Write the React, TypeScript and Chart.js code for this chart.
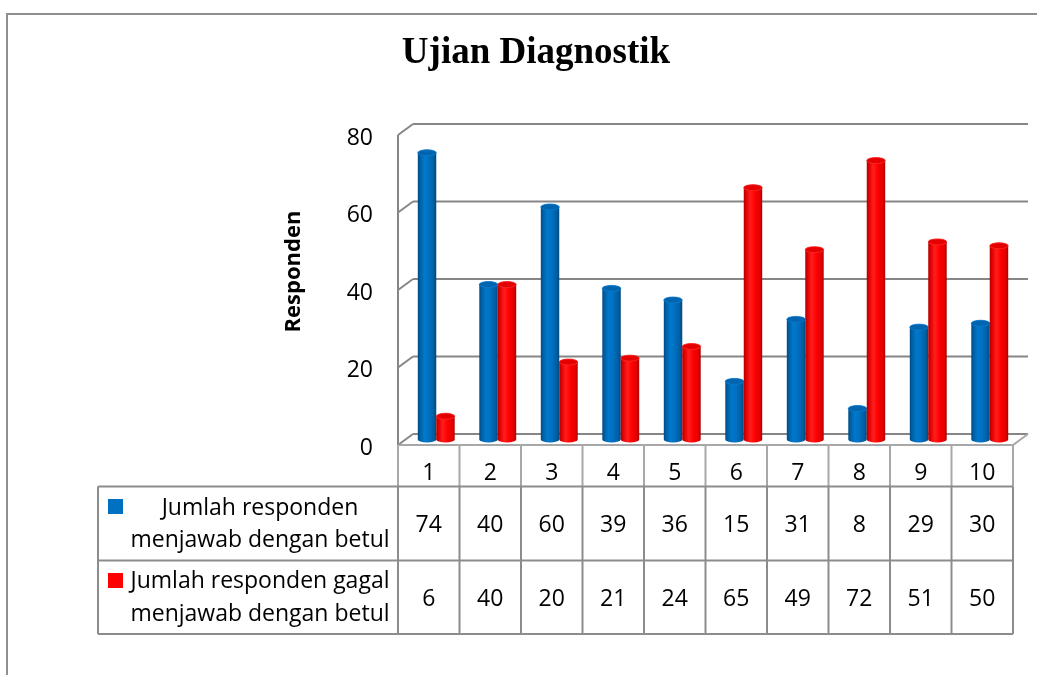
import React, { useEffect, useRef } from 'react';
import { Chart, registerables } from 'chart.js';

Chart.register(...registerables);

const chartTitle = 'Ujian Diagnostik';
const yAxisTitle = 'Responden';
const categories = ['1', '2', '3', '4', '5', '6', '7', '8', '9', '10'];
const seriesCorrect = [74, 40, 60, 39, 36, 15, 31, 8, 29, 30];
const seriesFailed = [6, 40, 20, 21, 24, 65, 49, 72, 51, 50];
const seriesLabels = [
  'Jumlah responden menjawab dengan betul',
  'Jumlah responden gagal menjawab dengan betul',
];
const legendLines = [
  ['Jumlah responden', 'menjawab dengan betul'],
  ['Jumlah responden gagal', 'menjawab dengan betul'],
];
const yTicks = [0, 20, 40, 60, 80];
const seriesColors = ['#0070C0', '#FF0000'];

const W = 1037;
const H = 675;
const DX = 15;
const DY = -11;
const FONT = "'Open Sans', sans-serif";

const palettes = [
  {
    stops: [
      [0, '#004a82'],
      [0.12, '#005fa3'],
      [0.35, '#0078cc'],
      [0.6, '#0070c0'],
      [0.88, '#005c9e'],
      [1, '#00477c'],
    ],
    top: '#0065ae',
    rim: '#0a7bd0',
  },
  {
    stops: [
      [0, '#b00000'],
      [0.12, '#e00000'],
      [0.35, '#ff1e1e'],
      [0.6, '#ff0000'],
      [0.88, '#e00000'],
      [1, '#a80000'],
    ],
    top: '#e40000',
    rim: '#ff2a2a',
  },
];

function drawCylinder(ctx: CanvasRenderingContext2D, cx: number, top: number, base: number, w: number, p: any) {
  const r = w / 2;
  const ry = 3;
  const g = ctx.createLinearGradient(cx - r, 0, cx + r, 0);
  p.stops.forEach((s: any) => g.addColorStop(s[0], s[1]));
  ctx.save();
  ctx.fillStyle = g;
  ctx.beginPath();
  ctx.moveTo(cx - r, top);
  ctx.lineTo(cx - r, base);
  ctx.ellipse(cx, base, r, ry, 0, Math.PI, 0, true);
  ctx.lineTo(cx + r, top);
  ctx.ellipse(cx, top, r, ry, 0, 0, Math.PI, true);
  ctx.closePath();
  ctx.fill();
  ctx.beginPath();
  ctx.ellipse(cx, top, r, ry, 0, 0, Math.PI * 2);
  ctx.fillStyle = p.top;
  ctx.fill();
  ctx.strokeStyle = p.rim;
  ctx.lineWidth = 0.8;
  ctx.stroke();
  ctx.restore();
}

const excel3d = {
  id: 'excel3d',
  beforeDatasetsDraw(chart: any) {
    const { ctx } = chart;
    const x = chart.scales.x;
    const y = chart.scales.y;
    const fl = x.left - DX / 2;
    const fr = x.right - DX / 2;
    const yF = (v: number) => y.getPixelForValue(v) - DY / 2;
    const yB = (v: number) => y.getPixelForValue(v) + DY / 2;
    ctx.save();
    ctx.strokeStyle = '#868686';
    ctx.lineWidth = 2;
    ctx.lineCap = 'butt';
    yTicks.forEach((v) => {
      ctx.beginPath();
      ctx.moveTo(fl + DX, yB(v));
      ctx.lineTo(fr + DX, yB(v));
      ctx.stroke();
      ctx.beginPath();
      ctx.moveTo(fl, yF(v));
      ctx.lineTo(fl + DX, yB(v));
      ctx.stroke();
    });
    ctx.beginPath();
    ctx.moveTo(fl, yF(yTicks[yTicks.length - 1]));
    ctx.lineTo(fl, yF(0));
    ctx.stroke();
    ctx.strokeStyle = '#a8a8a8';
    ctx.beginPath();
    ctx.moveTo(fl, yF(0));
    ctx.lineTo(fr, yF(0));
    ctx.lineTo(fr + DX, yB(0));
    ctx.stroke();
    ctx.restore();
  },
  beforeDatasetDraw() {
    return false;
  },
  afterDatasetsDraw(chart: any) {
    const { ctx } = chart;
    const n = categories.length;
    for (let i = 0; i < n; i++) {
      chart.data.datasets.forEach((ds: any, di: number) => {
        const meta = chart.getDatasetMeta(di);
        const el = meta.data[i];
        if (!el) return;
        const pr = el.getProps(['x', 'y', 'base', 'width'], true);
        drawCylinder(ctx, pr.x, pr.y, pr.base, pr.width, palettes[di]);
      });
    }
  },
  afterDraw(chart: any) {
    const { ctx } = chart;
    const x = chart.scales.x;
    const y = chart.scales.y;
    const fl = x.left - DX / 2;
    const fr = x.right - DX / 2;
    const catW = (x.right - x.left) / categories.length;
    const yF = (v: number) => y.getPixelForValue(v) - DY / 2;
    ctx.save();

    // frame
    ctx.strokeStyle = '#8f8f8f';
    ctx.lineWidth = 2;
    ctx.beginPath();
    ctx.moveTo(W, 14);
    ctx.lineTo(7, 14);
    ctx.lineTo(7, H);
    ctx.stroke();

    // title
    ctx.fillStyle = '#000';
    ctx.textAlign = 'center';
    ctx.textBaseline = 'alphabetic';
    ctx.font = "bold 37px 'Liberation Serif', serif";
    ctx.fillText(chartTitle, 536, 63);

    // y tick labels
    ctx.font = `23px ${FONT}`;
    ctx.textAlign = 'right';
    yTicks.forEach((v) => ctx.fillText(String(v), fl - 25, yF(v) + 9.5));

    // y title
    ctx.save();
    ctx.translate(294, 271.5);
    ctx.rotate(-Math.PI / 2);
    ctx.textAlign = 'center';
    ctx.textBaseline = 'middle';
    ctx.font = `bold 22px ${FONT}`;
    ctx.fillText(yAxisTitle, 0, 0);
    ctx.restore();

    // data table
    const hTop = yF(0);
    const hBot = 486.5;
    const r1 = 560.5;
    const r2 = 634;
    const tLeft = 98;
    ctx.lineWidth = 2;
    ctx.strokeStyle = '#a8a8a8';
    for (let i = 0; i <= categories.length; i++) {
      const cx = fl + i * catW;
      ctx.beginPath();
      ctx.moveTo(cx, hTop);
      ctx.lineTo(cx, hBot);
      ctx.stroke();
    }
    ctx.strokeStyle = '#8c8c8c';
    [hBot, r1, r2].forEach((yy) => {
      ctx.beginPath();
      ctx.moveTo(tLeft, yy);
      ctx.lineTo(fr, yy);
      ctx.stroke();
    });
    const vx = [tLeft];
    for (let i = 0; i <= categories.length; i++) vx.push(fl + i * catW);
    vx.forEach((xx) => {
      ctx.beginPath();
      ctx.moveTo(xx, hBot);
      ctx.lineTo(xx, r2);
      ctx.stroke();
    });

    ctx.fillStyle = '#000';
    ctx.textAlign = 'center';
    ctx.font = `23px ${FONT}`;
    const rowsVals = [seriesCorrect, seriesFailed];
    categories.forEach((c, i) => {
      const cx = fl + (i + 0.5) * catW;
      ctx.fillText(c, cx, 480);
      ctx.fillText(String(rowsVals[0][i]), cx, 532);
      ctx.fillText(String(rowsVals[1][i]), cx, 606);
    });

    // legend keys + labels
    const keyY = [499, 573];
    const lineBase = [
      [515, 547],
      [588, 621],
    ];
    legendLines.forEach((lines, si) => {
      ctx.fillStyle = seriesColors[si];
      ctx.fillRect(108, keyY[si], 15, 15);
      ctx.fillStyle = '#000';
      lines.forEach((t, li) => ctx.fillText(t, 260, lineBase[si][li]));
    });
    ctx.restore();
  },
};

export default function App() {
  const ref = useRef<HTMLCanvasElement | null>(null);
  useEffect(() => {
    if (!ref.current) return;
    const chart = new Chart(ref.current, {
      type: 'bar',
      data: {
        labels: categories,
        datasets: [
          { label: seriesLabels[0], data: seriesCorrect, backgroundColor: seriesColors[0], borderWidth: 0 },
          { label: seriesLabels[1], data: seriesFailed, backgroundColor: seriesColors[1], borderWidth: 0 },
        ],
      },
      options: {
        responsive: false,
        devicePixelRatio: 1,
        animation: false,
        events: [],
        layout: { padding: { left: 405.5, right: 16.5, top: 129.5, bottom: 235.5 } },
        datasets: { bar: { categoryPercentage: 0.6, barPercentage: 1 } },
        scales: {
          x: { display: false, offset: true },
          y: { display: false, min: 0, max: 80 },
        },
        plugins: {
          legend: { display: false },
          title: { display: false },
          tooltip: { enabled: false },
        },
      },
      plugins: [excel3d],
    });
    return () => chart.destroy();
  }, []);
  return (
    <div style={{ position: 'fixed', left: 0, top: 0, width: W, height: H, background: '#fff' }}>
      <canvas ref={ref} width={W} height={H} style={{ display: 'block', width: W, height: H }} />
    </div>
  );
}
